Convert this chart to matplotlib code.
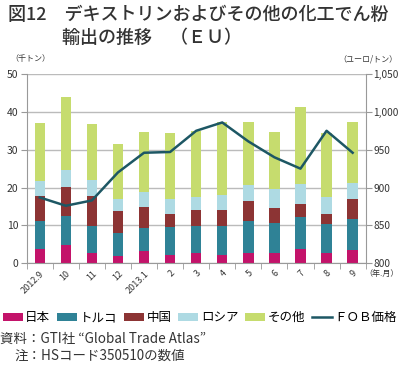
import matplotlib
matplotlib.use("Agg")
import matplotlib.pyplot as plt
import numpy as np
from matplotlib.patches import Patch
from matplotlib.lines import Line2D

plt.rcParams['font.family'] = ['Noto Sans CJK JP', 'DejaVu Sans']

months = ["2012.9", "10", "11", "12", "2013.1", "2", "3", "4", "5", "6", "7", "8", "9"]
japan  = [3.7, 4.8, 2.6, 1.8, 3.3, 2.2, 2.6, 2.2, 2.7, 2.7, 3.8, 2.7, 3.4]
turkey = [7.5, 7.7, 7.3, 6.2, 6.0, 7.5, 7.3, 7.7, 8.5, 8.0, 8.4, 7.7, 8.3]
china  = [6.6, 7.7, 7.9, 5.8, 5.7, 3.4, 4.2, 4.1, 5.3, 3.9, 3.5, 2.7, 5.4]
russia = [3.9, 4.4, 4.2, 3.2, 3.9, 3.8, 3.4, 4.0, 4.2, 4.9, 5.2, 4.3, 4.0]
other  = [15.4, 19.4, 14.7, 14.5, 15.8, 17.6, 17.4, 19.4, 16.7, 15.2, 20.4, 17.1, 16.2]
fob    = [887, 876, 883, 920, 946, 947, 975, 986, 961, 940, 925, 975, 946]

series = [("日本", japan, "#C3136A"), ("トルコ", turkey, "#2F8296"),
          ("中国", china, "#8C3434"), ("ロシア", russia, "#AEDAE3"),
          ("その他", other, "#C6DC6E")]

fig = plt.figure(figsize=(4.0, 3.7), dpi=100)
ax = fig.add_axes([0.0667, 0.2884, 0.8475, 0.5116])
x = np.arange(len(months))
bottom = np.zeros(len(months))
for name, vals, col in series:
    ax.bar(x, vals, 0.4, bottom=bottom, color=col, zorder=2, edgecolor='none')
    bottom += np.array(vals)

ax.set_xlim(-0.5, len(months) - 0.5)
ax.set_ylim(0, 50)
ax.set_yticks(range(0, 51, 10))
ax.yaxis.grid(True, color="#BBBBBB", linewidth=1.0, zorder=0)
ax.set_axisbelow(True)
for s in ["top", "right"]:
    ax.spines[s].set_visible(False)
for s in ["left", "bottom"]:
    ax.spines[s].set_color("#999999")
ax.tick_params(axis='y', colors="#999999", labelcolor="#333333", labelsize=7.5, length=4, pad=2)
ax.set_xticks(x)
ax.set_xticklabels(months, rotation=45, ha='right', rotation_mode='anchor', fontsize=6.5, color="#333333")
ax.tick_params(axis='x', which='major', length=0, pad=4)
ax.set_xticks(np.arange(-0.5, len(months), 1), minor=True)
ax.tick_params(axis='x', which='minor', length=4, color="#999999")

ax2 = ax.twinx()
ax2.plot(x, fob, color="#1D5764", linewidth=1.8, zorder=5)
ax2.set_ylim(800, 1050)
ax2.set_yticks(range(800, 1051, 50))
ax2.set_yticklabels([f"{v:,}" for v in range(800, 1051, 50)])
for s in ["top", "left", "bottom"]:
    ax2.spines[s].set_visible(False)
ax2.spines["right"].set_color("#999999")
ax2.tick_params(axis='y', colors="#999999", labelcolor="#333333", labelsize=7.3, length=4, pad=1.5)

fig.text(0.02, 0.985, "図12　デキストリンおよびその他の化工でん粉", fontsize=13.0, fontweight='medium', va='top', color="#333333")
fig.text(0.02, 0.922, "　　　輸出の推移　（ＥＵ）", fontsize=13.0, fontweight='medium', va='top', color="#333333")
fig.text(0.025, 0.835, "（千トン）", fontsize=5.8, color="#333333")
fig.text(0.995, 0.835, "（ユーロ/トン）", fontsize=5.8, color="#333333", ha='right')
fig.text(0.998, 0.274, "（年.月）", fontsize=5.8, color="#333333", ha='right', va='top')

handles = [Patch(facecolor=c, edgecolor='none') for _, _, c in series]
handles.append(Line2D([0], [0], color="#1D5764", linewidth=1.8))
labels = [n for n, _, _ in series] + ["ＦＯＢ価格"]
fig.legend(handles, labels, loc='center', bbox_to_anchor=(0.5, 0.141), ncol=6, frameon=False,
           fontsize=9.0, handlelength=1.6, handleheight=0.7, handletextpad=0.2, columnspacing=0.55,
           borderaxespad=0, borderpad=0)

fig.text(0.0, 0.085, "資料：GTI社 “Global Trade Atlas”", fontsize=9.7, color="#333333", va='center')
fig.text(0.035, 0.038, "注：HSコード350510の数値", fontsize=9.7, color="#333333", va='center')

fig.savefig("out.png", dpi=100)
